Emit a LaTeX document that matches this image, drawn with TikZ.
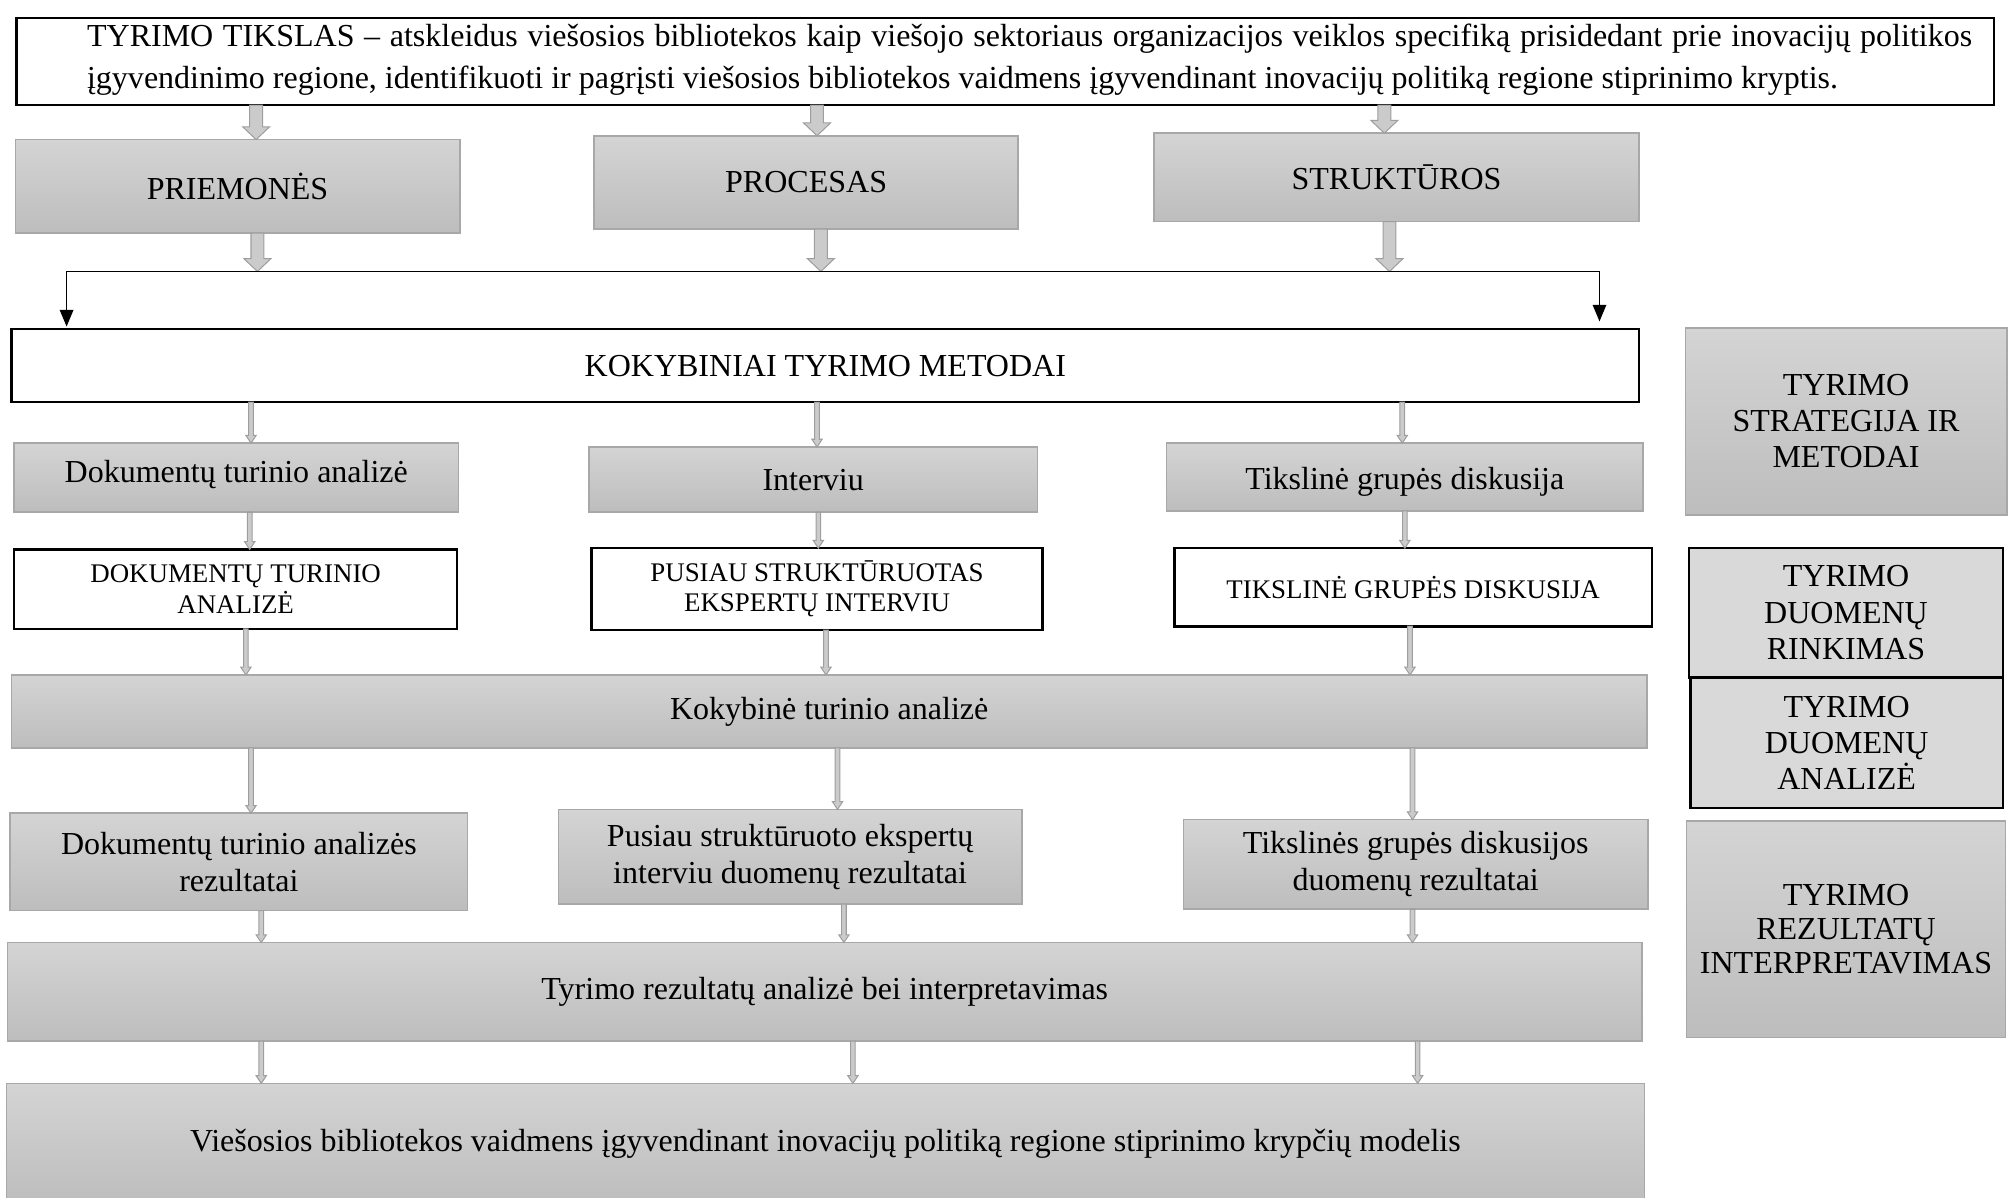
\documentclass[tikz,border=0pt]{standalone}
\usepackage{fontspec}
\setmainfont{Liberation Serif}
\usetikzlibrary{calc,arrows.meta}
\definecolor{gtop}{HTML}{D4D4D4}
\definecolor{gbot}{HTML}{BDBDBD}
\definecolor{gedge}{HTML}{A8A8A8}
\definecolor{lgray}{HTML}{D9D9D9}
\definecolor{afill}{HTML}{CBCBCB}
\definecolor{aedge}{HTML}{9E9E9E}
\tikzset{
  gbox/.style={draw=gedge, line width=1.2pt, top color=gtop, bottom color=gbot},
  wbox/.style={draw=black, line width=2pt, fill=white},
  lbox/.style={draw=black, line width=2pt, fill=lgray},
  smallfont/.style={font=\fontsize{21}{23.5}\selectfont},
  arrsty/.style={fill=afill, draw=aedge, line width=0.8pt},
  blk/.style={line width=1.3pt, black},
  blkarr/.style={blk, -{Triangle[width=10.5pt,length=13pt]}}
}
\begin{document}
\begin{tikzpicture}[x=1pt,y=-1pt,
  every node/.style={font=\fontsize{25}{29}\selectfont, inner sep=0pt, outer sep=0pt, align=center}]
\useasboundingbox (0,0) rectangle (1568,935);

% goal
\node[wbox, minimum width=1544pt, minimum height=68pt] (goal) at (785,48) {};
\node[anchor=base west, align=left, font=\fontsize{25}{33}\selectfont] (goaltext) at (68,69)
  {\makebox[1472pt][s]{TYRIMO TIKSLAS – atskleidus viešosios bibliotekos kaip viešojo sektoriaus organizacijos veiklos specifiką prisidedant prie inovacijų politikos}\\
   įgyvendinimo regione, identifikuoti ir pagrįsti viešosios bibliotekos vaidmens įgyvendinant inovacijų politiką regione stiprinimo kryptis.};

% level 1
\node[gbox, minimum width=347pt, minimum height=73pt] (pri) at (185.5,145.5) {PRIEMONĖS};
\node[gbox, minimum width=331pt, minimum height=73pt] (pro) at (629.5,142.5) {PROCESAS};
\node[gbox, minimum width=379pt, minimum height=69pt] (str) at (1090.5,138.5) {STRUKTŪROS};

% methods
\node[wbox, minimum width=1271pt, minimum height=57pt] (kok) at (644.5,285.5) {KOKYBINIAI TYRIMO METODAI};

\node[gbox, minimum width=347pt, minimum height=54pt] (dok1) at (184.5,373) {\raisebox{-4pt}[0pt][0pt]{Dokumentų turinio analizė}};
\node[gbox, minimum width=350pt, minimum height=51pt] (int1) at (635,374.5) {Interviu};
\node[gbox, minimum width=372pt, minimum height=53pt] (tik1) at (1097,372.5) {\raisebox{-10pt}[0pt][0pt]{Tikslinė grupės diskusija}};

\node[wbox, smallfont, minimum width=346pt, minimum height=62pt] (dok2) at (184,460) {DOKUMENTŲ TURINIO\\ANALIZĖ};
\node[wbox, smallfont, minimum width=352pt, minimum height=64pt] (int2) at (638,460) {PUSIAU STRUKTŪRUOTAS\\EKSPERTŲ INTERVIU};
\node[wbox, smallfont, minimum width=373pt, minimum height=61pt] (tik2) at (1103.5,458.5) {TIKSLINĖ GRUPĖS DISKUSIJA};

\node[gbox, minimum width=1277pt, minimum height=57pt] (kta) at (647.5,555.5) {Kokybinė turinio analizė};

\node[gbox, minimum width=357pt, minimum height=76pt] (dokr) at (186.5,673) {Dokumentų turinio analizės\\rezultatai};
\node[gbox, minimum width=362pt, minimum height=74pt] (intr) at (617,669) {Pusiau struktūruoto ekspertų\\interviu duomenų rezultatai};
\node[gbox, minimum width=363pt, minimum height=70pt] (tikr) at (1105.5,675) {Tikslinės grupės diskusijos\\duomenų rezultatai};

\node[gbox, minimum width=1276pt, minimum height=77pt] (tra) at (644,774.5) {Tyrimo rezultatų analizė bei interpretavimas};
\node[gbox, minimum width=1279pt, minimum height=94pt] (vm) at (644.5,893) {Viešosios bibliotekos vaidmens įgyvendinant inovacijų politiką regione stiprinimo krypčių modelis};

% right column
\node[gbox, minimum width=251pt, minimum height=146pt, font=\fontsize{25}{28}\selectfont] (rs) at (1441.5,329) {TYRIMO\\STRATEGIJA IR\\METODAI};
\node[lbox, minimum width=245pt, minimum height=101pt, font=\fontsize{25}{28.5}\selectfont] (rr) at (1441.5,478.5) {TYRIMO\\DUOMENŲ\\RINKIMAS};
\node[lbox, minimum width=244pt, minimum height=102pt, font=\fontsize{25}{28}\selectfont] (ra) at (1442,580) {TYRIMO\\DUOMENŲ\\ANALIZĖ};
\node[gbox, minimum width=249pt, minimum height=169pt, font=\fontsize{25}{26.5}\selectfont] (ri) at (1441.5,725.5) {TYRIMO\\REZULTATŲ\\INTERPRETAVIMAS};

\coordinate (hl) at (52,212);
\coordinate (hr) at (1249,212);

% big block arrows
\foreach \a/\b/\xx in {goal.south/pri.north/200, goal.south/pro.north/638, goal.south/str.north/1081,
                       pri.south/hl/201, pro.south/hl/641, str.south/hl/1085}{
  \path[arrsty] let \p1=(\a -| \xx,0), \p2=(\b -| \xx,0) in
    (\x1-5pt,\y1) -- (\x1+5pt,\y1) -- (\x1+5pt,\y2+10pt) -- (\x1+10.5pt,\y2+10pt) --
    (\x1,\y2) -- (\x1-10.5pt,\y2+10pt) -- (\x1-5pt,\y2+10pt) -- cycle;
}

\draw[blk] (hl) -- (hr);
\draw[blkarr] (hl) -- ([yshift=2pt]kok.north -| hl);
\draw[blkarr] (hr) -- ([yshift=6pt]kok.north -| hr);

% thin arrows
\foreach \a/\b/\xx in {kok/dok1/196, kok/int1/638, kok/tik1/1095,
                       dok1/dok2/195, int1/int2/639, tik1/tik2/1097,
                       dok2/kta/192, int2/kta/645, tik2/kta/1101,
                       kta/dokr/196, kta/intr/654, kta/tikr/1103,
                       dokr/tra/204, intr/tra/659, tikr/tra/1103,
                       tra/vm/204, tra/vm/666, tra/vm/1107}{
  \path[arrsty] let \p1=(\a.south -| \xx,0), \p2=(\b.north -| \xx,0) in
    (\x1-1.8pt,\y1) -- (\x1+1.8pt,\y1) -- (\x1+1.8pt,\y2+6pt) -- (\x1+4pt,\y2+6pt) --
    (\x1,\y2) -- (\x1-4pt,\y2+6pt) -- (\x1-1.8pt,\y2+6pt) -- cycle;
}
\end{tikzpicture}
\end{document}
